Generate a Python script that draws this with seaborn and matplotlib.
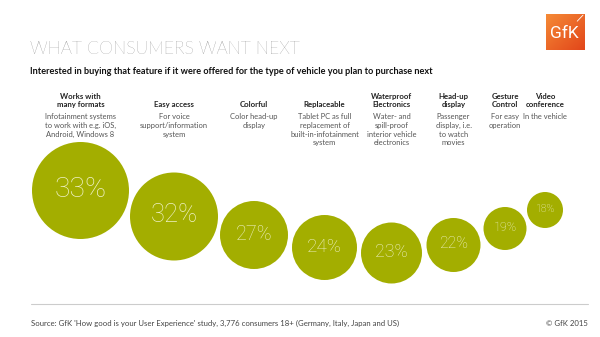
import numpy as np
import pandas as pd
import matplotlib
matplotlib.use("Agg")
import matplotlib.pyplot as plt
import seaborn as sns

# ---- data ----
features = ["Works with\nmany formats", "Easy access", "Colorful", "Replaceable",
            "Waterproof\nElectronics", "Head-up\ndisplay", "Gesture\nControl",
            "Video\nconference"]
descriptions = ["Infotainment systems\nto work with e.g. iOS,\nAndroid, Windows 8",
                "For voice\nsupport/information\nsystem",
                "Color head-up\ndisplay",
                "Tablet PC as full\nreplacement of\nbuilt-in-infotainment\nsystem",
                "Water- and\nspill-proof\ninterior vehicle\nelectronics",
                "Passenger\ndisplay, i.e.\nto watch\nmovies",
                "For easy\noperation",
                "In the vehicle"]
values = [33, 32, 27, 24, 23, 22, 19, 18]

# ---- layout (pixel space of the 600x337 canvas) ----
bubble_x = [80.5, 174, 254, 324.5, 391.5, 453.5, 505, 545]
bubble_y = [190.5, 216.5, 235, 247.5, 253, 245, 228.5, 210]
bubble_r = [48.5, 44, 34, 32.5, 30.5, 27, 21.5, 18]

GREEN = "#A3AE00"
LABEL = "#EEF1C4"

sns.set_theme(style="white")
plt.rcParams["font.family"] = ["Lato", "DejaVu Sans"]

W, H, DPI = 600, 337, 100
fig = plt.figure(figsize=(W / DPI, H / DPI), dpi=DPI)
ax = fig.add_axes([0, 0, 1, 1])
ax.set_xlim(0, W)
ax.set_ylim(H, 0)
ax.axis("off")

df = pd.DataFrame({"feature": features, "value": values,
                   "x": bubble_x, "y": bubble_y})
# marker area in pt^2 from pixel radius
areas = {v: (2 * r * 72 / DPI) ** 2 for v, r in zip(values, bubble_r)}
sns.scatterplot(data=df, x="x", y="y", size="value", sizes=areas,
                color=GREEN, edgecolor="none", linewidth=0, alpha=1,
                legend=False, ax=ax, zorder=2)

for v, x, y, r in zip(values, bubble_x, bubble_y, bubble_r):
    ax.text(x, y - 1, f"{v}%", ha="center", va="center", color=LABEL,
            fontsize=0.42 * r, fontweight="light", family=["Roboto", "DejaVu Sans"],
            zorder=3)

# column headers and descriptions
for f, d, x in zip(features, descriptions, bubble_x):
    ax.text(x, 108, f, ha="center", va="bottom", fontsize=5.6,
            fontweight="bold", color="#222222", linespacing=1.2)
    ax.text(x, 113, d, ha="center", va="top", fontsize=5.4,
            color="#555555", linespacing=1.3)

# title and subtitle
ax.text(30, 49, "WHAT CONSUMERS WANT NEXT", ha="left", va="center",
        fontsize=12.7, fontweight="light", color="#666666")
ax.text(30, 72, "Interested in buying that feature if it were offered for the type of vehicle you plan to purchase next",
        ha="left", va="center", fontsize=6.6, fontweight="bold", color="#111111")

# footer
ax.plot([31, 588], [304, 304], color="#CCCCCC", lw=0.8)
ax.text(31, 323, "Source: GfK 'How good is your User Experience' study, 3,776 consumers 18+ (Germany, Italy, Japan and US)",
        ha="left", va="center", fontsize=5.6, color="#444444")
ax.text(588, 323, "© GfK 2015", ha="right", va="center", fontsize=5.6, color="#444444")

# logo
lax = fig.add_axes([546 / W, 1 - 50 / H, 39 / W, 36 / H])
gx, gy = np.meshgrid(np.linspace(0, 1, 50), np.linspace(0, 1, 50))
t = (gx + gy) / 2
c1 = np.array(matplotlib.colors.to_rgb("#F58A36"))
c2 = np.array(matplotlib.colors.to_rgb("#E2461A"))
img = c1[None, None, :] * (1 - t[..., None]) + c2[None, None, :] * t[..., None]
lax.imshow(img, extent=[0, 1, 0, 1], aspect="auto", origin="upper")
lax.text(0.47, 0.45, "GfK", ha="center", va="center", color="white",
         fontsize=12.5, fontweight="normal", family=["Roboto", "DejaVu Sans"])
lax.plot([0.8, 0.95], [0.8, 0.97], color="white", lw=0.6)
lax.set_xlim(0, 1)
lax.set_ylim(0, 1)
lax.axis("off")

fig.savefig("out.png", dpi=DPI)
